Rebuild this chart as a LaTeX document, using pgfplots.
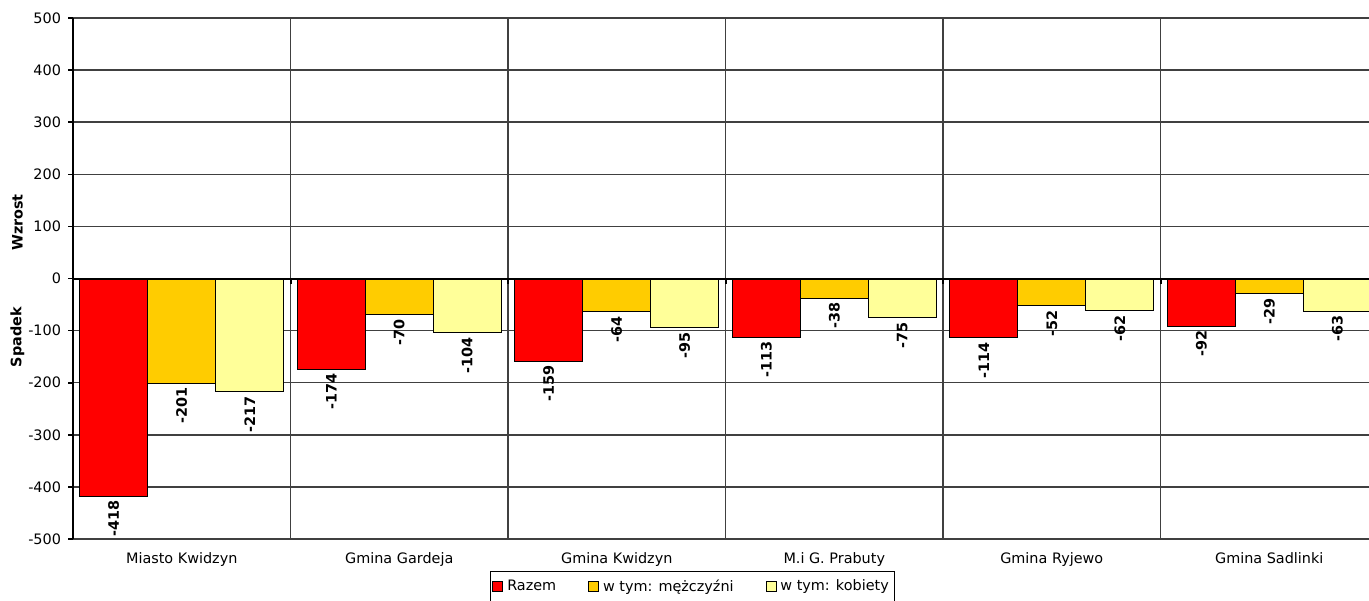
\documentclass[border=0pt]{standalone}
\usepackage{pgfplots}
\pgfplotsset{compat=1.18}
\usepackage{fontspec}
\setmainfont{DejaVu Sans}
\definecolor{cRed}{HTML}{FF0000}
\definecolor{cOr}{HTML}{FFCC00}
\definecolor{cYe}{HTML}{FFFF99}
\definecolor{gridc}{HTML}{404040}
\newcommand{\fs}{\fontsize{7.2}{8.6}\selectfont}
\pgfplotsset{sq/.style={legend image code/.code={\draw[##1, draw=black, line width=0.4pt] (0pt,-2.5pt) rectangle (5pt,2.5pt);}}}
\begin{document}
\begin{tikzpicture}
\path[use as bounding box, clip] (0,0) rectangle (684.5pt,300pt);
\begin{axis}[
 at={(36.5pt,30.5pt)}, anchor=south west,
 width=652.5pt, height=260.5pt, scale only axis,
 xmin=-0.5, xmax=5.5, ymin=-500, ymax=500,
 ybar=0pt, bar width=34pt,
 axis x line*=bottom, axis y line*=left,
 x axis line style={draw=gridc, line width=0.75pt, -},
 y axis line style={draw=black, line width=1.3pt, -},
 xtick={0,...,5},
 xticklabels={Miasto Kwidzyn, Gmina Gardeja, Gmina Kwidzyn, {M.i G. Prabuty}, Gmina Ryjewo, Gmina Sadlinki},
 x tick style={draw=none},
 minor xtick={0.5,1.5,2.5,3.5,4.5},
 xminorgrids=true,
 ytick={-500,-400,...,500},
 yticklabels={-500,-400,-300,-200,-100,0,100,200,300,400,500},
 ymajorgrids=true,
 major grid style={draw=gridc, line width=0.75pt},
 minor grid style={draw=gridc, line width=0.75pt},
 y tick style={draw=black, line width=0.8pt},
 tick align=outside, major tick length=2.5pt,
 ticklabel style={font=\fs},
 x tick label style={yshift=-0.5pt},
 nodes near coords={\pgfmathprintnumber[assume math mode=true]{\pgfplotspointmeta}},
 every node near coord/.append style={rotate=90, anchor=east, font=\fs\bfseries, inner sep=2pt},
 legend style={at={(0.3195,-0.0614)}, anchor=north west, draw=black, line width=0.5pt, font=\fs, legend columns=3, inner xsep=1pt, /tikz/every even column/.append style={column sep=14pt}},
 legend cell align=left,
]
\addplot[fill=cRed, draw=black, line width=0.5pt, sq]
 coordinates {(0,-418) (1,-174) (2,-159) (3,-113) (4,-114) (5,-92)};
\addplot[fill=cOr, draw=black, line width=0.5pt, sq]
 coordinates {(0,-201) (1,-70) (2,-64) (3,-38) (4,-52) (5,-29)};
\addplot[fill=cYe, draw=black, line width=0.5pt, sq]
 coordinates {(0,-217) (1,-104) (2,-95) (3,-75) (4,-62) (5,-63)};
\legend{Razem, w tym: mężczyźni, w tym: kobiety}
\draw[black, line width=1pt] (axis cs:-0.5,0) -- (axis cs:5.5,0);
\draw[black, line width=1pt] (axis cs:0.5,0) -- ++(0pt,-2.5pt);
\draw[black, line width=1pt] (axis cs:1.5,0) -- ++(0pt,-2.5pt);
\draw[black, line width=1pt] (axis cs:2.5,0) -- ++(0pt,-2.5pt);
\draw[black, line width=1pt] (axis cs:3.5,0) -- ++(0pt,-2.5pt);
\draw[black, line width=1pt] (axis cs:4.5,0) -- ++(0pt,-2.5pt);
\end{axis}
\node[rotate=90, font=\fs\bfseries] at (8.75pt,188.75pt) {Wzrost};
\node[rotate=90, font=\fs\bfseries] at (8.75pt,131.5pt) {Spadek};
\end{tikzpicture}
\end{document}
